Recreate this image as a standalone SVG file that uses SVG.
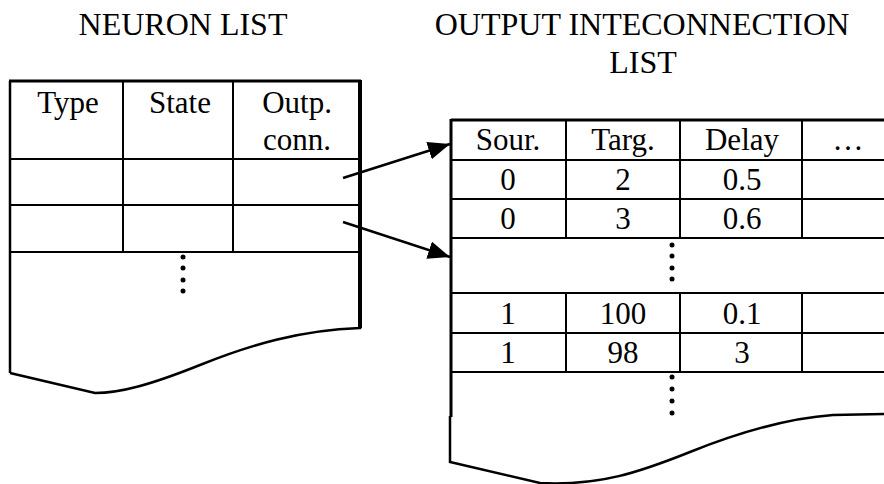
<svg xmlns="http://www.w3.org/2000/svg" width="884" height="484" viewBox="0 0 884 484">
<style>
  text { font-family: 'Liberation Serif', 'Times New Roman', 'DejaVu Serif', serif; fill: #000; text-anchor: middle; }
  .title { font-size: 32px; }
  .cell { font-size: 31px; }
  .outer { fill: none; stroke: #000; stroke-width: 3; }
  .inner { fill: none; stroke: #000; stroke-width: 2; }
  .edge { fill: none; stroke: #000; stroke-width: 2.5; }
  .conn { stroke: #000; stroke-width: 2.5; fill: none; }
</style>
<defs>
  <marker id="arr" markerUnits="userSpaceOnUse" markerWidth="24" markerHeight="18" refX="22" refY="9" orient="auto">
    <path d="M0,0 L22,9 L0,18 Z" fill="#000"/>
  </marker>
</defs>
<rect width="884" height="484" fill="#fff"/>

<g id="neuron-list">
  <text class="title" x="183" y="35" font-family="Liberation Serif, serif">NEURON LIST</text>
  <path class="edge" d="M10,373 L10,81 M360,81 L360,328 C300,330 250,345 200,365 C150,385 120,393 95,393 L10,373"/>
  <line class="outer" x1="9" y1="81" x2="361" y2="81"/>
  <line class="outer" x1="360" y1="80" x2="360" y2="328" style="stroke-width:4"/>
  <line class="inner" x1="10" y1="159" x2="360" y2="159"/>
  <line class="inner" x1="10" y1="205" x2="360" y2="205"/>
  <line class="inner" x1="10" y1="252" x2="360" y2="252"/>
  <line class="inner" x1="123" y1="81" x2="123" y2="252"/>
  <line class="inner" x1="233" y1="81" x2="233" y2="252"/>
  <text class="cell" x="68" y="113">Type</text>
  <text class="cell" x="180" y="113">State</text>
  <text class="cell" x="297" y="113">Outp.</text>
  <text class="cell" x="297" y="150">conn.</text>
  <circle cx="183" cy="257" r="2.5"/>
  <circle cx="183" cy="268" r="2.5"/>
  <circle cx="183" cy="280" r="2.5"/>
  <circle cx="183" cy="291" r="2.5"/>
</g>

<g id="interconnection-list">
  <text class="title" x="642" y="35">OUTPUT INTECONNECTION</text>
  <text class="title" x="643" y="73">LIST</text>
  <line class="outer" x1="451" y1="120" x2="884" y2="120"/>
  <line class="outer" x1="451" y1="119" x2="451" y2="417"/>
  <path class="edge" d="M450,416 L450,462 L540,483 C600,486 640,472 690,452 C740,432 790,418 833,415 L884,414"/>
  <line class="inner" x1="451" y1="160" x2="884" y2="160"/>
  <line class="inner" x1="451" y1="199" x2="884" y2="199"/>
  <line class="inner" x1="451" y1="238" x2="884" y2="238"/>
  <line class="inner" x1="451" y1="293" x2="884" y2="293"/>
  <line class="inner" x1="451" y1="333" x2="884" y2="333"/>
  <line class="inner" x1="451" y1="372" x2="884" y2="372"/>
  <line class="inner" x1="566" y1="120" x2="566" y2="238"/>
  <line class="inner" x1="680" y1="120" x2="680" y2="238"/>
  <line class="inner" x1="802" y1="120" x2="802" y2="238"/>
  <line class="inner" x1="566" y1="293" x2="566" y2="372"/>
  <line class="inner" x1="680" y1="293" x2="680" y2="372"/>
  <line class="inner" x1="802" y1="293" x2="802" y2="372"/>
  <text class="cell" x="508" y="150">Sour.</text>
  <text class="cell" x="623" y="150">Targ.</text>
  <text class="cell" x="742" y="150">Delay</text>
  <text class="cell" x="848" y="150">…</text>
  <text class="cell" x="508" y="190">0</text>
  <text class="cell" x="623" y="190">2</text>
  <text class="cell" x="742" y="190">0.5</text>
  <text class="cell" x="508" y="229">0</text>
  <text class="cell" x="623" y="229">3</text>
  <text class="cell" x="742" y="229">0.6</text>
  <text class="cell" x="508" y="324">1</text>
  <text class="cell" x="623" y="324">100</text>
  <text class="cell" x="742" y="324">0.1</text>
  <text class="cell" x="508" y="363">1</text>
  <text class="cell" x="623" y="363">98</text>
  <text class="cell" x="742" y="363">3</text>
  <circle cx="672" cy="245" r="2.5"/>
  <circle cx="672" cy="256" r="2.5"/>
  <circle cx="672" cy="268" r="2.5"/>
  <circle cx="672" cy="279" r="2.5"/>
  <circle cx="672" cy="377" r="2.5"/>
  <circle cx="672" cy="389" r="2.5"/>
  <circle cx="672" cy="401" r="2.5"/>
  <circle cx="672" cy="413" r="2.5"/>
</g>

<g id="connectors">
  <line class="conn" x1="343" y1="178" x2="450" y2="144" marker-end="url(#arr)"/>
  <line class="conn" x1="343" y1="222" x2="450" y2="257" marker-end="url(#arr)"/>
</g>
</svg>
